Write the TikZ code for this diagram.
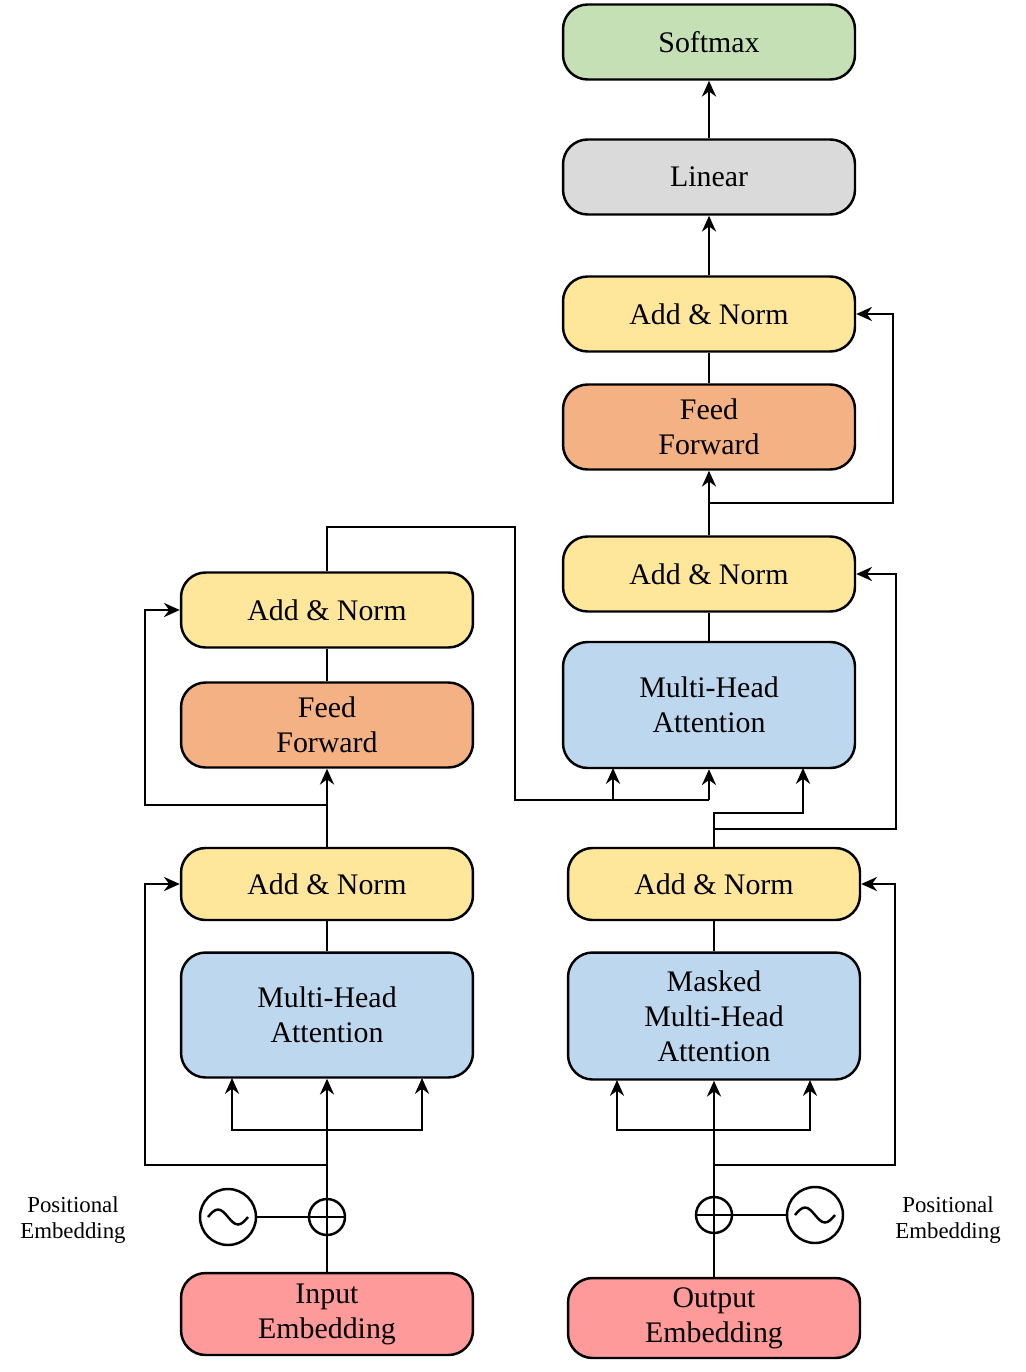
\documentclass[tikz,border=0pt]{standalone}
\usepackage{fontspec}
\setmainfont{Liberation Serif}
\usetikzlibrary{arrows.meta}
\definecolor{cNorm}{HTML}{FEE69B}
\definecolor{cFF}{HTML}{F4B183}
\definecolor{cAtt}{HTML}{BDD7EE}
\definecolor{cEmb}{HTML}{FF9A9A}
\definecolor{cLin}{HTML}{DADADA}
\definecolor{cSoft}{HTML}{C5E0B4}
\tikzset{
  blk/.style={draw, line width=1.4pt, rounded corners=14pt, minimum width=5.84cm, align=center, font=\fontsize{17}{20}\selectfont},
  ar/.style={line width=1.4pt, -{Stealth[length=9pt,width=8pt]}},
  ln/.style={line width=1.4pt},
  lbl/.style={align=center, font=\fontsize{13}{15}\selectfont}
}
\begin{document}
\begin{tikzpicture}[x=0.02cm,y=-0.02cm]
\useasboundingbox (0,0) rectangle (1025,1372);
% encoder
\node[blk, fill=cEmb, minimum height=1.64cm] (inemb) at (327,1314) {Input\\Embedding};
\node[blk, fill=cAtt, minimum height=2.5cm] (encatt) at (327,1015) {Multi-Head\\Attention};
\node[blk, fill=cNorm, minimum height=1.44cm] (encnormA) at (327,884) {Add \& Norm};
\node[blk, fill=cFF, minimum height=1.7cm] (encff) at (327,725) {Feed\\Forward};
\node[blk, fill=cNorm, minimum height=1.5cm] (encnormB) at (327,610) {Add \& Norm};
% decoder
\node[blk, fill=cEmb, minimum height=1.6cm] (outemb) at (714,1318) {Output\\Embedding};
\node[blk, fill=cAtt, minimum height=2.54cm] (maskatt) at (714,1016) {Masked\\Multi-Head\\Attention};
\node[blk, fill=cNorm, minimum height=1.44cm] (decnormA) at (714,884) {Add \& Norm};
\node[blk, fill=cAtt, minimum height=2.52cm] (decatt) at (709,705) {Multi-Head\\Attention};
\node[blk, fill=cNorm, minimum height=1.5cm] (decnormB) at (709,574) {Add \& Norm};
\node[blk, fill=cFF, minimum height=1.7cm] (decff) at (709,427) {Feed\\Forward};
\node[blk, fill=cNorm, minimum height=1.5cm] (decnormC) at (709,314) {Add \& Norm};
\node[blk, fill=cLin, minimum height=1.5cm] (linear) at (709,177) {Linear};
\node[blk, fill=cSoft, minimum height=1.5cm] (softmax) at (709,42) {Softmax};
% positional encodings
\node[draw, circle, ln, minimum size=1.12cm] (sinL) at (228,1217) {};
\node[draw, circle, ln, minimum size=0.72cm] (plusL) at (327,1217) {};
\node[draw, circle, ln, minimum size=0.72cm] (plusR) at (714,1215) {};
\node[draw, circle, ln, minimum size=1.12cm] (sinR) at (815,1215) {};
\foreach \c in {sinL,sinR}
  \draw[ln] ([xshift=-0.4cm]\c.center) sin ([xshift=-0.2cm,yshift=0.15cm]\c.center) cos (\c.center) sin ([xshift=0.2cm,yshift=-0.15cm]\c.center) cos ([xshift=0.4cm]\c.center);
\foreach \c in {plusL,plusR}
  \draw[ln] (\c.north) -- (\c.south) (\c.west) -- (\c.east);
\draw[ln] (sinL) -- (plusL);
\draw[ln] (plusR) -- (sinR);
\node[lbl] (posL) at (73,1220) {Positional\\Embedding};
\node[lbl] (posR) at (948,1220) {Positional\\Embedding};
% encoder connectors
\draw[ln] (inemb.north) -- (plusL.south);
\draw[ar] (plusL.north) -- (encatt.south);
\draw[ar] (327,1130) -| (232,1078);
\draw[ar] (327,1130) -| (422,1078);
\draw[ar] (327,1165) -- (145,1165) |- (encnormA.west);
\draw[ln] (encatt.north) -- (encnormA.south);
\draw[ar] (encnormA.north) -- (encff.south);
\draw[ar] (327,805) -- (145,805) |- (encnormB.west);
\draw[ln] (encff.north) -- (encnormB.south);
\draw[ln] (encnormB.north) -- (327,527) -- (515,527) -- (515,800) -- (709,800);
\draw[ar] (613,800) -- (613,768);
\draw[ar] (709,800) -- (decatt.south);
% decoder connectors
\draw[ln] (outemb.north) -- (plusR.south);
\draw[ar] (plusR.north) -- (maskatt.south);
\draw[ar] (714,1130) -| (617,1080);
\draw[ar] (714,1130) -| (810,1080);
\draw[ar] (714,1165) -- (895,1165) |- (decnormA.east);
\draw[ln] (maskatt.north) -- (decnormA.south);
\draw[ar] (decnormA.north) -- (714,813) -| (803,768);
\draw[ar] (714,829) -- (896,829) |- (decnormB.east);
\draw[ln] (decatt.north) -- (decnormB.south);
\draw[ar] (decnormB.north) -- (decff.south);
\draw[ar] (709,503) -- (893,503) |- (decnormC.east);
\draw[ln] (decff.north) -- (decnormC.south);
\draw[ar] (decnormC.north) -- (linear.south);
\draw[ar] (linear.north) -- (softmax.south);
\end{tikzpicture}
\end{document}
